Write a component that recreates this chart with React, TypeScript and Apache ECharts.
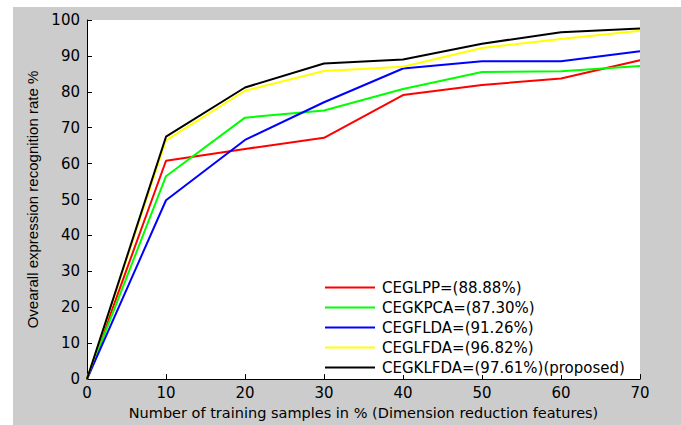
import React, { useEffect, useRef } from "react";
import * as echarts from "echarts";

const xValues = [0, 10, 20, 30, 40, 50, 60, 70];
const seriesNames = [
  "CEGLPP=(88.88%)",
  "CEGKPCA=(87.30%)",
  "CEGFLDA=(91.26%)",
  "CEGLFDA=(96.82%)",
  "CEGKLFDA=(97.61%)(proposed)",
];
const ceglpp = [0, 60.8, 64.1, 67.2, 79.1, 81.9, 83.7, 88.8];
const cegkpca = [0, 56.5, 72.8, 74.8, 80.8, 85.5, 85.7, 87.2];
const cegflda = [0, 49.8, 66.6, 77.1, 86.5, 88.5, 88.5, 91.3];
const ceglfda = [0, 66.5, 80.3, 85.8, 87.0, 92.2, 94.7, 97.0];
const cegklfda = [0, 67.5, 81.2, 87.9, 89.0, 93.4, 96.6, 97.6];
const seriesColors = ["#ff0000", "#00ff00", "#0000ff", "#ffff00", "#000000"];
const yTicks = [0, 10, 20, 30, 40, 50, 60, 70, 80, 90, 100];

const HFONT = "DejaVu Sans";
const VFONT = "Liberation Sans";

export default function App() {
  const ref = useRef<HTMLDivElement>(null);
  useEffect(() => {
    if (!ref.current) return;
    const chart = echarts.init(ref.current, undefined, { renderer: "svg" });
    const all = [ceglpp, cegkpca, cegflda, ceglfda, cegklfda];
    chart.setOption({
      animation: false,
      backgroundColor: "#cccccc",
      textStyle: { fontFamily: HFONT },
      grid: {
        left: 74,
        top: 13,
        right: 41,
        bottom: 41,
        show: true,
        backgroundColor: "#ffffff",
        borderWidth: 0,
      },
      legend: {
        orient: "vertical",
        left: 312,
        top: 273,
        itemWidth: 50,
        itemHeight: 2,
        itemGap: 5,
        icon: "rect",
        backgroundColor: "#ffffff",
        padding: 0,
        textStyle: { fontFamily: HFONT, fontSize: 15, color: "#000", padding: [0, 0, 0, 2] },
        data: seriesNames,
      },
      xAxis: {
        type: "value",
        min: 0,
        max: 70,
        interval: 10,
        name: "Number of training samples in % (Dimension reduction features)",
        nameLocation: "middle",
        nameGap: 23,
        nameTextStyle: { fontFamily: HFONT, fontSize: 14.5, color: "#000" },
        axisLine: { show: true, onZero: false, lineStyle: { color: "#000", width: 1 } },
        axisTick: { show: true, inside: true, length: 5, lineStyle: { color: "#000" } },
        axisLabel: { fontFamily: HFONT, fontSize: 15, color: "#000", margin: 6 },
        splitLine: { show: false },
      },
      yAxis: {
        type: "value",
        min: 0,
        max: 100,
        interval: 10,
        name: "Ovearall expression recognition rate %",
        nameLocation: "middle",
        nameGap: 46,
        nameTextStyle: { fontFamily: VFONT, fontSize: 15, color: "#000" },
        axisLine: { show: true, onZero: false, lineStyle: { color: "#000", width: 1 } },
        axisTick: { show: true, inside: true, length: 5, lineStyle: { color: "#000" } },
        axisLabel: {
          fontFamily: HFONT,
          fontSize: 15,
          color: "#000",
          margin: 7,
          formatter: (v: number) => (yTicks.includes(v) ? String(v) : ""),
        },
        splitLine: { show: false },
      },
      series: seriesNames.map((name, i) => ({
        name,
        type: "line",
        data: xValues.map((x, j) => [x, all[i][j]]),
        symbol: "none",
        lineStyle: { color: seriesColors[i], width: 2 },
        itemStyle: { color: seriesColors[i] },
        z: 2 + i,
      })),
    });
    return () => chart.dispose();
  }, []);
  return (
    <div style={{ position: "fixed", left: 0, top: 0, width: 681, height: 425, background: "#ffffff" }}>
      <div ref={ref} style={{ position: "absolute", left: 13, top: 7, width: 668, height: 418 }} />
    </div>
  );
}
